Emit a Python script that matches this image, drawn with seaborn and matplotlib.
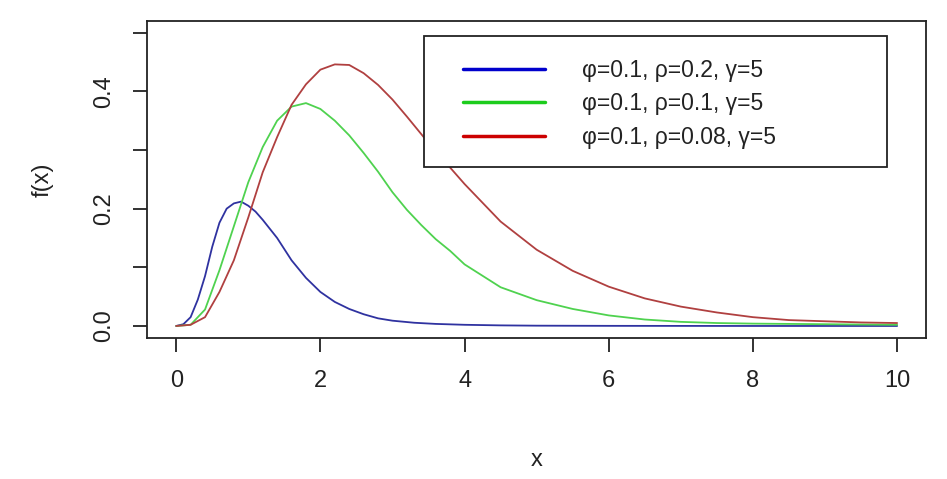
import numpy as np
import pandas as pd
import matplotlib
matplotlib.use("Agg")
import matplotlib.pyplot as plt
from matplotlib.lines import Line2D
from matplotlib.patches import Rectangle
import seaborn as sns

# ----------------------
# Data
# ----------------------
x_blue = [0, 0.1, 0.2, 0.3, 0.4, 0.5, 0.6, 0.7, 0.8, 0.9, 1.0, 1.1, 1.2, 1.4, 1.6,
          1.8, 2.0, 2.2, 2.4, 2.6, 2.8, 3.0, 3.3, 3.6, 4.0, 4.5, 5, 6, 7, 8, 9, 10]
y_blue = [0, 0.003, 0.015, 0.045, 0.085, 0.135, 0.176, 0.200, 0.209, 0.212, 0.205,
          0.195, 0.181, 0.150, 0.112, 0.082, 0.058, 0.041, 0.029, 0.020, 0.013,
          0.009, 0.0055, 0.0035, 0.002, 0.001, 0.0005, 0.0002, 0.0001, 0, 0, 0]

x_green = [0, 0.2, 0.4, 0.6, 0.8, 1.0, 1.2, 1.4, 1.6, 1.8, 2.0, 2.2, 2.4, 2.6, 2.8,
           3.0, 3.2, 3.4, 3.6, 3.8, 4.0, 4.5, 5.0, 5.5, 6.0, 6.5, 7.0, 7.5, 8, 9, 10]
y_green = [0, 0.002, 0.028, 0.095, 0.170, 0.245, 0.305, 0.350, 0.374, 0.380, 0.370,
           0.350, 0.325, 0.295, 0.263, 0.228, 0.198, 0.172, 0.148, 0.128, 0.105,
           0.066, 0.044, 0.029, 0.018, 0.011, 0.007, 0.005, 0.004, 0.003, 0.002]

x_red = [0, 0.2, 0.4, 0.6, 0.8, 1.0, 1.2, 1.4, 1.6, 1.8, 2.0, 2.2, 2.4, 2.6, 2.8,
         3.0, 3.2, 3.4, 3.6, 3.8, 4.0, 4.5, 5.0, 5.5, 6.0, 6.5, 7.0, 7.5, 8, 8.5,
         9, 9.5, 10]
y_red = [0, 0.002, 0.015, 0.058, 0.112, 0.185, 0.262, 0.322, 0.377, 0.412, 0.437,
         0.446, 0.445, 0.431, 0.411, 0.386, 0.357, 0.327, 0.297, 0.270, 0.242,
         0.178, 0.130, 0.094, 0.067, 0.047, 0.033, 0.023, 0.015, 0.010, 0.008,
         0.006, 0.005]

labels = ["φ=0.1, ρ=0.2, γ=5", "φ=0.1, ρ=0.1, γ=5", "φ=0.1, ρ=0.08, γ=5"]
curve_colors = ["#2f32a0", "#4fd24f", "#b04040"]
legend_colors = ["#0000cc", "#1ccc1c", "#cc0000"]

x_ticks = [0, 2, 4, 6, 8, 10]
y_ticks = [0.0, 0.1, 0.2, 0.3, 0.4, 0.5]
y_ticklabels = ["0.0", "", "0.2", "", "0.4", ""]

# long table for seaborn
df = pd.concat([
    pd.DataFrame({"x": x_blue, "fx": y_blue, "curve": labels[0]}),
    pd.DataFrame({"x": x_green, "fx": y_green, "curve": labels[1]}),
    pd.DataFrame({"x": x_red, "fx": y_red, "curve": labels[2]}),
], ignore_index=True)

# ----------------------
# Plot
# ----------------------
sns.set_style("white")
plt.rcParams["font.family"] = ["Liberation Sans", "DejaVu Sans"]

fig = plt.figure(figsize=(9.47, 4.79), dpi=100)
ax = fig.add_axes([0.1556, 0.295, 0.8222, 0.6612])

sns.lineplot(data=df, x="x", y="fx", hue="curve", palette=curve_colors,
             sort=False, estimator=None, linewidth=1.3, legend=False, ax=ax)

ax.set_xlim(-0.4, 10.4)
ax.set_ylim(-0.02, 0.52)
ax.set_xticks(x_ticks)
ax.set_xticklabels([str(t) for t in x_ticks])
ax.set_yticks(y_ticks)
ax.set_yticklabels(y_ticklabels, rotation=90, va="center")
ax.tick_params(axis="both", direction="out", length=10, width=1.3,
               color="#222222", labelsize=17, labelcolor="#222222",
               bottom=True, left=True)
ax.tick_params(axis="x", pad=13)
ax.tick_params(axis="y", pad=13)
for s in ax.spines.values():
    s.set_visible(True)
    s.set_linewidth(1.3)
    s.set_color("#222222")

ax.set_xlabel("x", fontsize=17, color="#222222", labelpad=41)
ax.set_ylabel("f(x)", fontsize=17, color="#222222", labelpad=29)

# legend box (white, drawn over the curves)
ax.add_patch(Rectangle((0.3553, 0.540), 0.5942, 0.4127, transform=ax.transAxes,
                       facecolor="white", edgecolor="#222222", linewidth=1.3,
                       zorder=5))
handles = [Line2D([], [], color=c, linewidth=2.5) for c in legend_colors]
leg = ax.legend(handles, labels, loc="center left", bbox_to_anchor=(0.405, 0.738),
                frameon=False, fontsize=16.5, handlelength=3.6, handletextpad=1.6,
                labelspacing=0.46, borderpad=0, borderaxespad=0)
leg.set_zorder(6)
for t in leg.get_texts():
    t.set_color("#222222")

fig.savefig("out.png", dpi=100)
